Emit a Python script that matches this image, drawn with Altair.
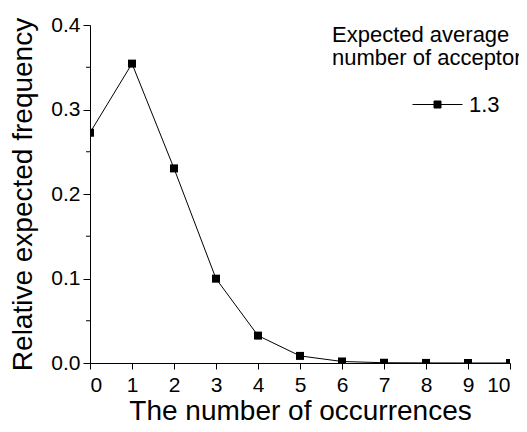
import altair as alt
import pandas as pd

# Data
occurrences = [0, 1, 2, 3, 4, 5, 6, 7, 8, 9, 10]
rel_freq = [0.2725, 0.3543, 0.2303, 0.0998, 0.0324, 0.0084, 0.0018, 0.0003, 0.0001, 0.0000, 0.0000]
series_label = "1.3"
x_ticks = [0, 1, 2, 3, 4, 5, 6, 7, 8, 9, 10]
y_ticks = [0.0, 0.1, 0.2, 0.3, 0.4]
y_minor = [0.05, 0.15, 0.25, 0.35]

FONT = "Liberation Sans, Arial, Helvetica, sans-serif"

df = pd.DataFrame({"n": occurrences, "freq": rel_freq, "avg": [series_label] * len(occurrences)})
minor_df = pd.DataFrame({"freq": y_minor})

x_enc = alt.X(
    "n:Q",
    scale=alt.Scale(domain=[0, 10], nice=False, zero=False),
    axis=alt.Axis(
        values=x_ticks, format="d", title="The number of occurrences",
        tickSize=6, labelPadding=5, titlePadding=2,
        labelFontSize=21, titleFontSize=28,
    ),
)
y_enc = alt.Y(
    "freq:Q",
    scale=alt.Scale(domain=[0, 0.4], nice=False),
    axis=alt.Axis(
        values=y_ticks, format=".1f", title="Relative expected frequency",
        tickSize=7, labelPadding=3, titlePadding=13,
        labelFontSize=21, titleFontSize=28,
    ),
)
color_enc = alt.Color(
    "avg:N",
    scale=alt.Scale(range=["black"]),
    legend=alt.Legend(
        title=["Expected average", "number of acceptors"],
        orient="none", legendX=242, legendY=0,
        titleFontSize=22, titleFontWeight="normal", titleLineHeight=23,
        titlePadding=9, titleLimit=400,
        labelFontSize=22, labelOffset=6, labelLimit=200,
        symbolType="M-1,0H1M-0.14,-0.14H0.14V0.14H-0.14Z",
        symbolSize=2500, symbolOffset=80,
        symbolFillColor="black", symbolStrokeColor="black", symbolStrokeWidth=1,
    ),
)

line = alt.Chart(df).mark_line(strokeWidth=1, clip=True).encode(x=x_enc, y=y_enc, color=color_enc)
points = alt.Chart(df).mark_point(shape="square", filled=True, size=64, opacity=1, clip=True).encode(
    x=x_enc, y=y_enc, color=color_enc
)
minor = alt.Chart(minor_df).mark_rule(color="black", strokeWidth=1).encode(
    y=y_enc, x=alt.value(-4), x2=alt.value(0)
)

chart = (
    alt.layer(line, points, minor)
    .properties(
        width=420, height=338,
        autosize=alt.AutoSizeParams(type="none"),
        padding={"left": 82, "top": 17, "right": 9, "bottom": 61},
        background="white",
    )
    .configure_view(stroke=None)
    .configure_axis(
        grid=False, domainColor="black", tickColor="black", labelColor="black",
        titleColor="black", labelFont=FONT, titleFont=FONT, titleFontWeight="normal",
        domainWidth=1, tickWidth=1,
    )
    .configure_legend(labelFont=FONT, titleFont=FONT, labelColor="black", titleColor="black")
)

chart.save("out.html", embed_options={"renderer": "svg", "actions": False})
